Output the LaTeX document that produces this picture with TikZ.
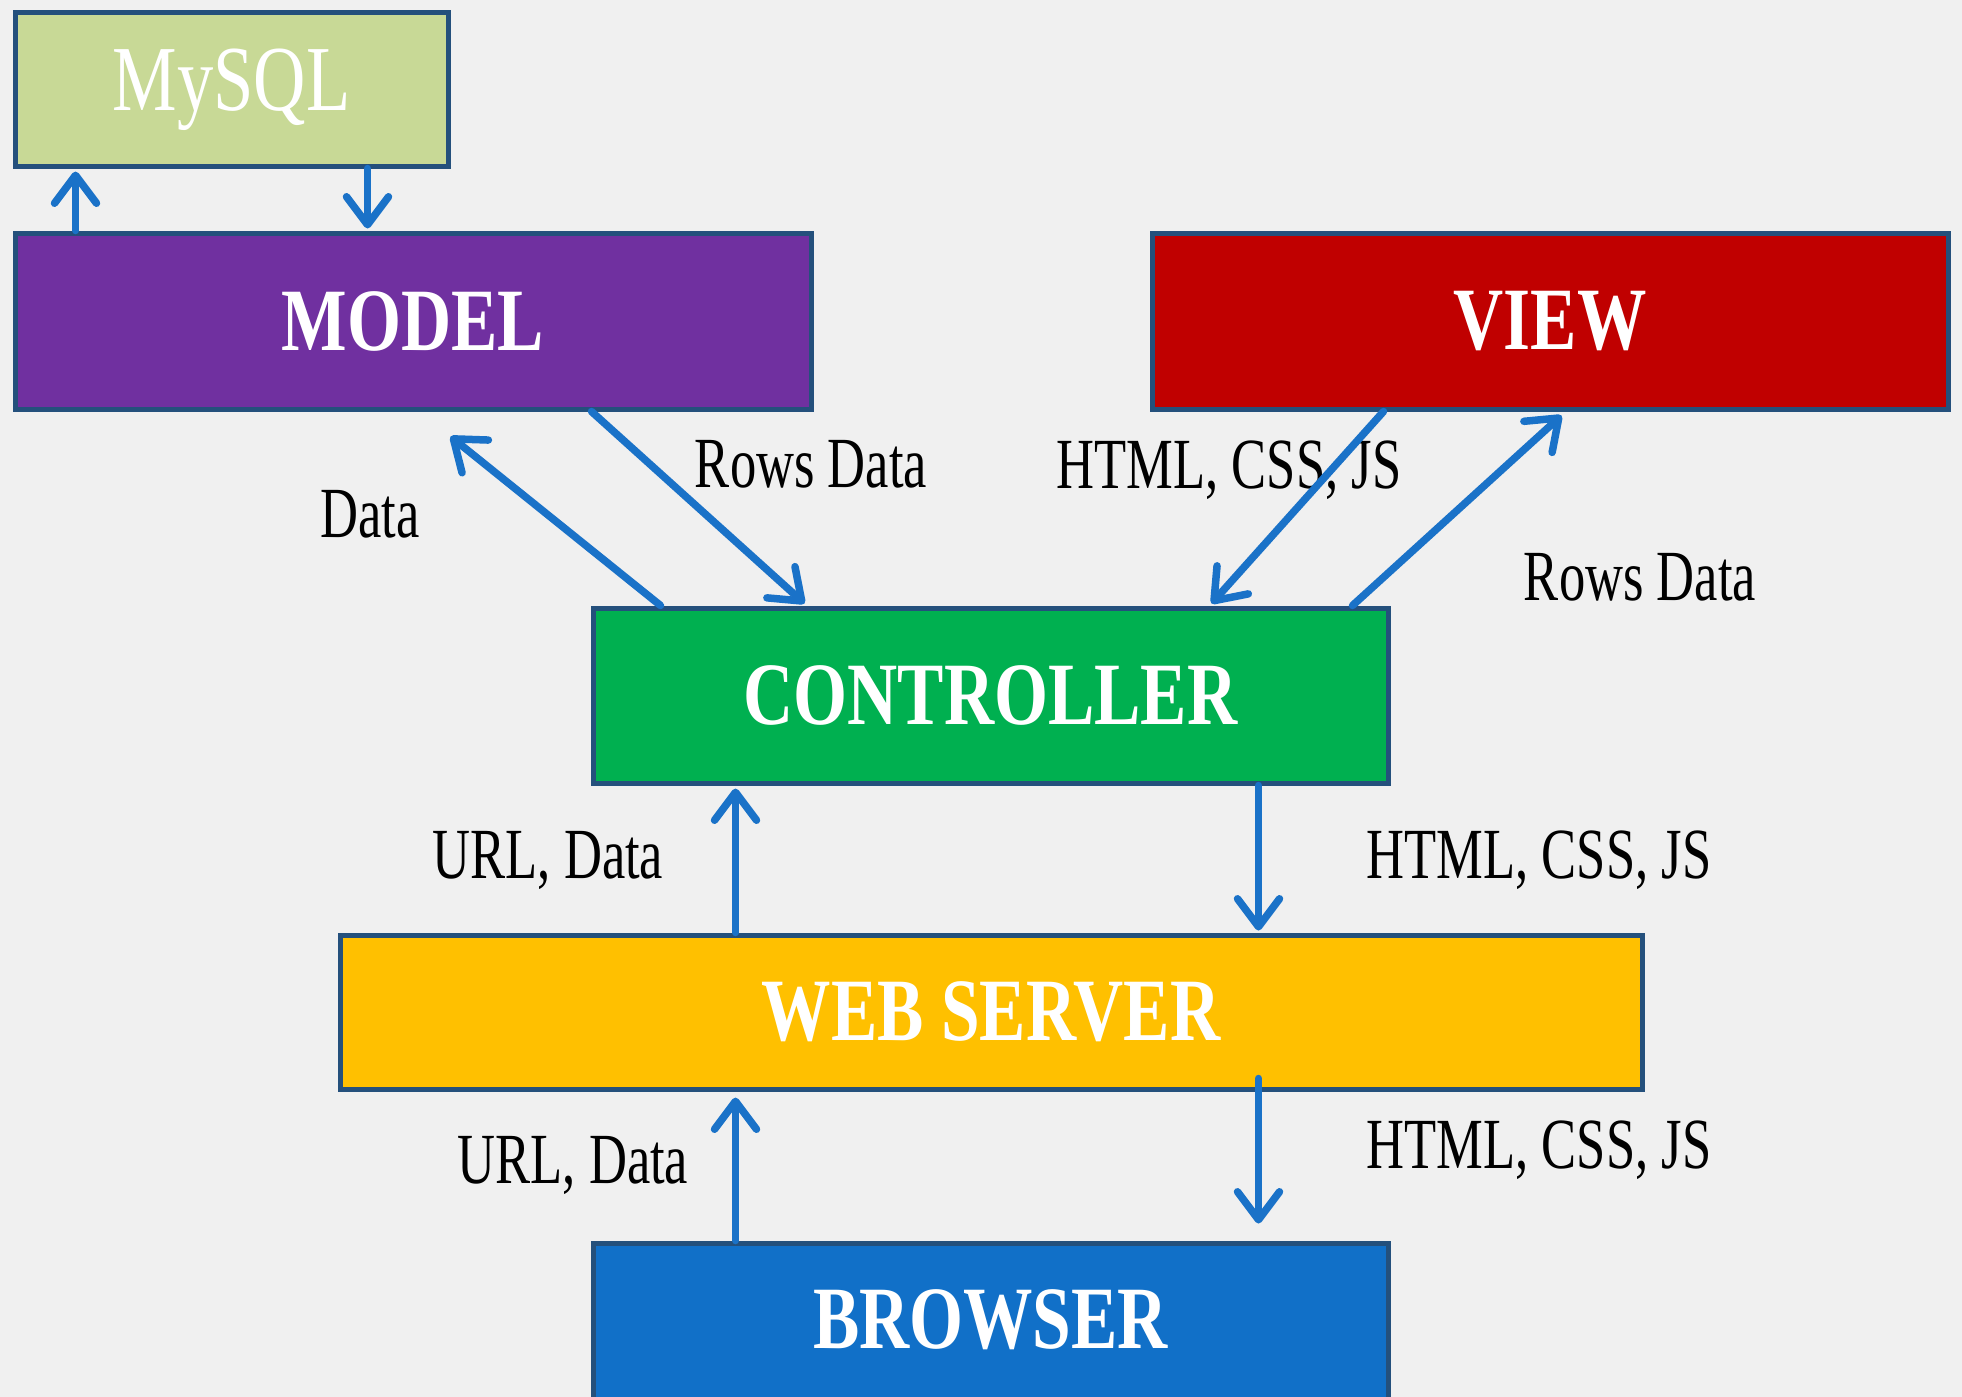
\documentclass[tikz,border=0pt]{standalone}
\usepackage{fontspec}
\setmainfont{Liberation Serif}
\newfontfamily\labfont[FakeStretch=0.73]{Liberation Serif}
\newfontfamily\boxfont[FakeStretch=0.78]{Liberation Serif}
\usetikzlibrary{arrows.meta}
\definecolor{bgc}{HTML}{F0F0F0}
\definecolor{edgec}{HTML}{24507C}
\definecolor{arrc}{HTML}{1A72C8}
\definecolor{mysqlc}{HTML}{C8D996}
\definecolor{modelc}{HTML}{7030A0}
\definecolor{viewc}{HTML}{C00000}
\definecolor{ctrlc}{HTML}{00B050}
\definecolor{webc}{HTML}{FFC000}
\definecolor{browc}{HTML}{1170C8}
\tikzset{
  box/.style={draw=edgec, line width=5pt, inner sep=0pt, text=white,
    font=\boxfont\bfseries\fontsize{89}{95}\selectfont},
  lab/.style={inner sep=0pt, text=black, font=\labfont\fontsize{72}{80}\selectfont},
  conn/.style={draw=arrc, line width=7.5pt, line cap=round,
    -{Straight Barb[length=28pt,width=42pt,line width=7.5pt,round]}}
}
\begin{document}
\begin{tikzpicture}[x=1pt,y=-1pt]
\useasboundingbox (0,0) rectangle (1962,1397);
\fill[bgc] (0,0) rectangle (1962,1397);
% boxes
\node[box, fill=mysqlc, minimum width=433pt, minimum height=153pt,
  font=\boxfont\fontsize{93}{99}\selectfont] (mysql) at (231.5,89.5) {MySQL};
\node[box, fill=modelc, minimum width=796pt, minimum height=176pt] (model) at (413,321) {MODEL};
\node[box, fill=viewc, minimum width=796pt, minimum height=176pt] (view) at (1550,321) {VIEW};
\node[box, fill=ctrlc, minimum width=795pt, minimum height=175pt] (ctrl) at (990.5,695.5) {CONTROLLER};
\node[box, fill=webc, minimum width=1302pt, minimum height=154pt] (web) at (991,1012) {WEB SERVER};
\node[box, fill=browc, minimum width=795pt, minimum height=180pt] (brow) at (990.5,1333) {};
\node[box, draw=none, anchor=center] (browtxt) at (990.5,1320) {BROWSER};
% labels
\node[lab] (l1) at (370,514) {Data};
\node[lab] (l2) at (811,464) {Rows Data};
\node[lab] (l3) at (1229,470) {HTML, CSS, JS};
\node[lab] (l4) at (1640,577) {Rows Data};
\node[lab] (l5) at (548,860) {URL, Data};
\node[lab] (l6) at (1539,860) {HTML, CSS, JS};
\node[lab] (l7) at (573,1165) {URL, Data};
\node[lab] (l8) at (1539,1150) {HTML, CSS, JS};
% connectors
\draw[conn] ([xshift=63pt]model.north west) -- ([xshift=63pt,yshift=-3pt]mysql.south west);
\draw[conn] ([xshift=355pt]mysql.south west) -- ([xshift=355pt,yshift=2pt]model.north west);
\draw[conn] ([xshift=70pt]ctrl.north west) -- ([xshift=438pt,yshift=-25pt]model.south west);
\draw[conn] ([xshift=579pt]model.south west) -- ([xshift=214pt,yshift=2pt]ctrl.north west);
\draw[conn] ([xshift=234pt]view.south west) -- ([xshift=621pt,yshift=2pt]ctrl.north west);
\draw[conn] ([xshift=762pt]ctrl.north west) -- ([xshift=412pt,yshift=-4pt]view.south west);
\draw[conn] ([xshift=398pt]web.north west) -- ([xshift=145pt,yshift=-3pt]ctrl.south west);
\draw[conn] ([xshift=668pt]ctrl.south west) -- ([xshift=921pt,yshift=2pt]web.north west);
\draw[conn] ([xshift=145pt]brow.north west) -- ([xshift=398pt,yshift=-6pt]web.south west);
\draw[conn] ([xshift=921pt,yshift=13pt]web.south west) -- ([xshift=668pt,yshift=17pt]brow.north west);
\end{tikzpicture}
\end{document}
